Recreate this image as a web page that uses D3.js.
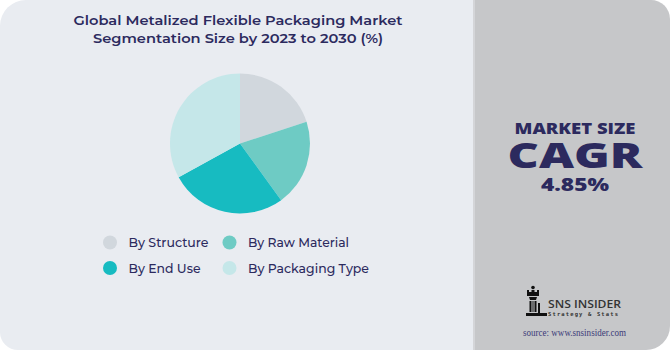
<!DOCTYPE html>
<html>
<head>
<meta charset="utf-8">
<script src="https://cdn.jsdelivr.net/npm/d3@7"></script>
<style>
  html, body { margin: 0; padding: 0; background: #ffffff; }
  svg { display: block; }
</style>
</head>
<body>
<svg id="chart" width="670" height="350"></svg>
<script>
// Segment shares (%)
const categories = ["By Structure", "By Raw Material", "By End Use", "By Packaging Type"];
const shares = [20, 20, 27, 33];
const colors = ["#d1d7dd", "#6ecbc4", "#17bbc1", "#c5e7e9"];

const titleLines = ["Global Metalized Flexible Packaging Market", "Segmentation Size by 2023 to 2030 (%)"];
const kpiLines = ["MARKET SIZE", "CAGR", "4.85%"];

const W = 670, H = 350;
const svg = d3.select("#chart");
const navy = "#2c2a5e";
const font = "Montserrat, 'Open Sans', 'DejaVu Sans', sans-serif";

// Rounded panel outline: radii per corner (tl, tr, br, bl)
function roundedRect(x, y, w, h, tl, tr, br, bl) {
  const p = d3.path();
  p.moveTo(x + tl, y);
  p.lineTo(x + w - tr, y);
  if (tr) p.arcTo(x + w, y, x + w, y + tr, tr); else p.lineTo(x + w, y);
  p.lineTo(x + w, y + h - br);
  if (br) p.arcTo(x + w, y + h, x + w - br, y + h, br); else p.lineTo(x + w, y + h);
  p.lineTo(x + bl, y + h);
  if (bl) p.arcTo(x, y + h, x, y + h - bl, bl); else p.lineTo(x, y + h);
  p.lineTo(x, y + tl);
  if (tl) p.arcTo(x, y, x + tl, y, tl); else p.lineTo(x, y);
  p.closePath();
  return p.toString();
}

// Left (chart) panel and right (KPI) panel
svg.append("path").attr("d", roundedRect(0, 0, 476, H, 26, 0, 0, 18)).attr("fill", "#e9ecf1");
svg.append("path").attr("d", roundedRect(474, 0, W - 474, H, 0, 19, 24, 0)).attr("fill", "#c6c7c9");
svg.append("rect").attr("x", 473).attr("y", 0).attr("width", 2).attr("height", H).attr("fill", "#d4d5d8");

// Title
svg.append("g").selectAll("text").data(titleLines).join("text")
  .attr("x", 238).attr("y", (d, i) => 25 + i * 17.5)
  .attr("text-anchor", "middle")
  .attr("font-family", font).attr("font-weight", 600).attr("font-size", 13)
  .attr("fill", navy)
  .attr("textLength", (d, i) => i === 0 ? 329 : 290)
  .attr("lengthAdjust", "spacingAndGlyphs")
  .text(d => d);

// Pie
const cx = 240, cy = 143.5, R = 70;
const pie = d3.pie().sort(null).value(d => d)(shares);
const arc = d3.arc().innerRadius(0).outerRadius(R);
svg.append("g").attr("transform", `translate(${cx},${cy})`)
  .selectAll("path").data(pie).join("path")
  .attr("d", arc)
  .attr("fill", (d, i) => colors[i]);

// Legend (2 x 2)
const colX = [110, 229.5], rowY = [242.5, 268];
const legend = svg.append("g").selectAll("g").data(categories).join("g")
  .attr("transform", (d, i) => `translate(${colX[i % 2]},${rowY[Math.floor(i / 2)]})`);
legend.append("circle").attr("r", 7).attr("fill", (d, i) => colors[i]);
legend.append("text")
  .attr("x", 18.5).attr("y", 4.5)
  .attr("font-family", font).attr("font-size", 13).attr("font-weight", 500)
  .attr("fill", navy)
  .attr("textLength", (d, i) => [80, 101, 72, 121][i])
  .attr("lengthAdjust", "spacingAndGlyphs")
  .text(d => d);

// KPI block
const kx = 575;
const kpiStyle = [
  { y: 133.7, size: 15.5, w: 121, weight: 800 },
  { y: 167.7, size: 36, w: 135, weight: 900 },
  { y: 190.7, size: 18, w: 68, weight: 800 }
];
svg.append("g").selectAll("text").data(kpiLines).join("text")
  .attr("x", kx).attr("y", (d, i) => kpiStyle[i].y)
  .attr("text-anchor", "middle")
  .attr("font-family", "'Open Sans', Lato, sans-serif")
  .attr("font-weight", (d, i) => kpiStyle[i].weight)
  .attr("font-size", (d, i) => kpiStyle[i].size)
  .attr("fill", navy)
  .attr("textLength", (d, i) => kpiStyle[i].w)
  .attr("lengthAdjust", "spacingAndGlyphs")
  .text(d => d);

// Brand mark: rook icon
const logo = svg.append("g").attr("fill", "#111111");
const rook = d3.path();
// crown
rook.moveTo(527, 290); rook.lineTo(529, 290); rook.lineTo(529, 292); rook.lineTo(531.5, 292);
rook.lineTo(531.5, 290); rook.lineTo(534.5, 290); rook.lineTo(534.5, 292); rook.lineTo(537, 292);
rook.lineTo(537, 290); rook.lineTo(539, 290); rook.lineTo(539, 296); rook.lineTo(527, 296); rook.closePath();
// neck
rook.moveTo(529, 297); rook.lineTo(537, 297); rook.lineTo(536, 300); rook.lineTo(530, 300); rook.closePath();
// body with columns
rook.moveTo(529.5, 301); rook.lineTo(531.5, 301); rook.lineTo(531.5, 312); rook.lineTo(529.5, 312); rook.closePath();
rook.moveTo(532.5, 301); rook.lineTo(533.5, 301); rook.lineTo(533.5, 312); rook.lineTo(532.5, 312); rook.closePath();
rook.moveTo(534.5, 301); rook.lineTo(536.5, 301); rook.lineTo(536.5, 312); rook.lineTo(534.5, 312); rook.closePath();
// base
rook.moveTo(526, 313); rook.lineTo(547, 313); rook.lineTo(547, 316); rook.lineTo(526, 316); rook.closePath();
rook.moveTo(538, 303); rook.lineTo(540, 303); rook.lineTo(540, 313); rook.lineTo(538, 313); rook.closePath();
logo.append("path").attr("d", rook.toString());
logo.append("circle").attr("cx", 533).attr("cy", 287.5).attr("r", 1.8);

svg.append("text")
  .attr("x", 548).attr("y", 308)
  .attr("font-family", "'Open Sans', sans-serif").attr("font-size", 11).attr("font-weight", 600)
  .attr("fill", "#333333")
  .attr("textLength", 73).attr("lengthAdjust", "spacingAndGlyphs")
  .text("SNS INSIDER");
svg.append("text")
  .attr("x", 548).attr("y", 316)
  .attr("font-family", "'DejaVu Sans Mono', monospace").attr("font-size", 5.5).attr("font-weight", 700)
  .attr("fill", "#333333")
  .attr("textLength", 70).attr("lengthAdjust", "spacing")
  .text("Strategy & Stats");

svg.append("text")
  .attr("x", 574.5).attr("y", 335.5)
  .attr("text-anchor", "middle")
  .attr("font-family", "'Liberation Serif', 'DejaVu Serif', serif").attr("font-size", 9.5)
  .attr("fill", "#3b3a78")
  .attr("textLength", 103).attr("lengthAdjust", "spacingAndGlyphs")
  .text("source: www.snsinsider.com");
</script>
</body>
</html>
